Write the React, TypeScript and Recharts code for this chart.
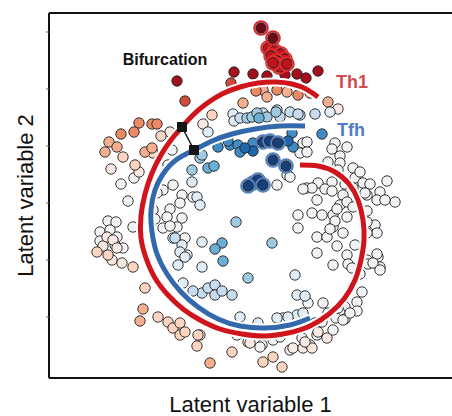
import {
  ComposedChart,
  Line,
  ReferenceDot,
  ReferenceLine,
  Scatter,
  XAxis,
  YAxis,
} from "recharts";

type Pair = [number, number];

// cells, in plot units (x right, y down)
const th1Tip: Pair[] = [[261, 28], [273, 38]];
const th1Cluster: Pair[] = [
  [268, 48], [275, 51], [281, 54], [285, 59], [271, 56], [277, 61], [283, 65], [279, 67], [287, 64], [273, 63],
];
const darkRed: Pair[] = [[177, 81], [234, 72], [253, 74], [267, 76], [285, 75], [297, 74], [306, 78], [318, 71]];
const red: Pair[] = [[185, 101], [231, 83]];
const orange: Pair[] = [[139, 123], [152, 124], [157, 124], [134, 132], [121, 134], [256, 91], [277, 90], [298, 95]];
const salmon: Pair[] = [
  [263, 90], [267, 97], [287, 92], [310, 93], [109, 142], [117, 147], [105, 152], [145, 152], [152, 148],
  [243, 103], [328, 102], [140, 321], [143, 309], [210, 363],
];
const lightSalmon: Pair[] = [
  [161, 136], [123, 157], [153, 153], [135, 165], [212, 115], [158, 317], [168, 322], [173, 328], [180, 323],
  [180, 335], [185, 332], [198, 335], [197, 346], [232, 352], [282, 367], [145, 288], [97, 252], [108, 255],
  [133, 267], [263, 362], [273, 357],
];
const paleRose: Pair[] = [
  [170, 132], [111, 169], [139, 172], [203, 124], [338, 109], [103, 246], [112, 260], [122, 263], [107, 237],
  [113, 240], [117, 248], [200, 335], [250, 343], [240, 332], [290, 350], [293, 348], [303, 348], [310, 345],
  [327, 338], [318, 332], [312, 348], [305, 342],
];
const neutral: Pair[] = [
  [121, 184], [134, 178], [128, 201], [133, 227], [108, 221], [116, 222], [100, 232], [110, 230], [117, 237],
  [115, 245], [123, 248], [100, 241],
  [173, 185], [163, 190], [182, 195], [180, 203], [170, 209], [153, 210], [167, 217], [182, 218], [163, 228],
  [177, 227], [173, 238], [185, 238], [187, 255], [157, 193], [193, 197], [155, 219], [170, 226], [172, 150],
  [168, 165],
  [303, 143], [300, 153], [287, 175], [277, 185], [290, 177], [298, 215], [298, 228], [307, 188],
  [307, 142], [307, 152], [335, 143], [347, 147], [332, 149], [340, 156], [328, 162], [340, 163], [353, 168],
  [338, 170], [355, 178], [363, 183], [387, 181], [318, 183], [332, 182], [345, 184], [325, 189], [360, 172],
  [370, 184], [380, 192], [395, 202], [377, 200], [367, 195], [343, 195], [353, 188], [312, 188], [303, 189],
  [317, 200], [312, 213], [322, 215], [333, 215], [340, 205], [347, 217], [333, 227], [317, 237], [327, 237],
  [337, 246], [375, 225], [377, 233], [367, 233], [378, 257], [367, 260], [380, 267], [347, 255], [348, 264],
  [333, 265], [317, 253], [355, 245], [332, 191], [347, 202], [337, 209], [353, 207], [335, 221], [343, 233],
  [330, 229], [352, 268], [360, 274], [365, 193], [385, 200], [367, 211], [367, 222], [368, 264], [377, 254],
  [373, 263],
  [362, 292], [357, 302], [357, 311], [345, 307], [340, 313], [345, 319], [336, 318], [338, 308], [328, 313],
  [323, 303], [308, 303], [322, 322], [315, 323], [380, 270], [343, 320], [350, 313],
  [248, 342], [262, 345], [273, 340], [302, 338], [317, 335], [333, 330], [237, 335], [260, 347], [280, 337],
];
const blue1: Pair[] = [
  [233, 114], [234, 121], [208, 132], [330, 112], [182, 245], [180, 252], [185, 257], [178, 265], [202, 267],
  [183, 283], [197, 197], [200, 205], [192, 182], [202, 242], [295, 275], [240, 317], [258, 323], [297, 315],
  [303, 313], [283, 318], [288, 317], [277, 318], [297, 295], [305, 296],
];
const blue2: Pair[] = [
  [240, 118], [263, 113], [277, 110], [300, 115], [315, 114], [290, 112], [298, 114], [280, 117], [175, 238],
  [202, 293], [208, 288], [215, 285], [215, 295], [222, 291], [232, 295], [193, 291],
];
const blue3: Pair[] = [
  [247, 118], [252, 117], [257, 113], [267, 117], [276, 112], [236, 222], [272, 243], [248, 278], [200, 158],
  [192, 170], [202, 155],
];
const blue4: Pair[] = [[259, 118], [222, 243], [215, 249], [223, 261], [208, 168], [214, 166]];
const blue5: Pair[] = [[218, 147], [230, 145], [238, 145], [253, 143], [240, 152], [293, 147], [292, 133], [322, 134], [228, 141]];
const blue6: Pair[] = [[253, 151], [288, 141], [245, 148]];
const tfhTip: Pair[] = [[263, 142], [270, 141], [278, 143], [273, 160], [286, 166], [253, 183], [258, 180], [263, 185], [248, 186]];

// principal curves
const th1Curve: Pair[] = [
  [300, 165], [318, 166], [335, 172], [349, 184], [358, 200], [363, 220], [364, 240], [361, 260], [355, 280],
  [344, 299], [329, 314], [310, 326], [288, 333], [264, 336], [242, 334], [220, 329], [200, 320], [183, 309],
  [168, 295], [155, 278], [146, 258], [141, 238], [141, 216], [145, 194], [152, 173], [161, 155], [171, 140],
  [182, 127], [193, 115], [206, 104], [222, 94], [240, 87], [258, 83], [276, 82], [292, 84], [306, 89], [318, 97],
];
const tfhCurve: Pair[] = [
  [310, 318], [290, 325], [265, 328], [240, 326], [218, 319], [198, 307], [181, 292], [167, 274], [157, 254],
  [152, 232], [151, 210], [155, 190], [163, 174], [176, 160], [194, 150], [212, 141], [232, 134], [255, 129],
  [280, 126], [305, 126],
];
const branchPoints: Pair[] = [[182, 127], [194, 150]];
const yTicks = [32, 89, 146, 203, 260, 317];

const pts = (a: Pair[]) => a.map(([x, y]) => ({ x, y }));

const dot = (fill: string, ring?: string) => (p: any) => (
  <g>
    {ring && <circle cx={p.cx} cy={p.cy} r={6.8} fill="none" stroke={ring} strokeWidth={2} />}
    <circle cx={p.cx} cy={p.cy} r={5.2} fill={fill} stroke="#222" strokeWidth={0.9} />
  </g>
);

const square = (p: any) => <rect x={p.cx - 5} y={p.cy - 5} width={10} height={10} fill="#151515" />;

const groups: { data: Pair[]; fill: string; ring?: string }[] = [
  { data: neutral, fill: "#f1f3f5" },
  { data: paleRose, fill: "#fae9e2" },
  { data: lightSalmon, fill: "#fcd4c0" },
  { data: salmon, fill: "#f5ae90" },
  { data: orange, fill: "#eb8966" },
  { data: red, fill: "#d04a3e" },
  { data: darkRed, fill: "#a3101d" },
  { data: blue1, fill: "#e0ecf6" },
  { data: blue2, fill: "#c7dcee" },
  { data: blue3, fill: "#9fcae1" },
  { data: blue4, fill: "#6aaed6" },
  { data: blue5, fill: "#3f8cc6" },
  { data: blue6, fill: "#1f66ad" },
  { data: tfhTip, fill: "#173f7a", ring: "#4f80c2" },
  { data: th1Cluster, fill: "#c4121b", ring: "#e32c2a" },
  { data: th1Tip, fill: "#6b0a1a", ring: "#d8282a" },
];

export default function App() {
  return (
    <div style={{ position: "absolute", left: 0, top: 0, width: 452, height: 416, overflow: "hidden", fontFamily: "'Liberation Sans', Arial, sans-serif" }}>
      <ComposedChart width={452} height={416} margin={{ top: 13, right: 0, bottom: 0, left: 0 }}>
        <XAxis
          type="number"
          dataKey="x"
          domain={[49, 452]}
          allowDataOverflow
          height={38}
          tick={false}
          tickLine={false}
          axisLine={{ stroke: "#111", strokeWidth: 2 }}
          label={{ value: "Latent variable 1", position: "insideBottom", offset: 4, fontSize: 22, fill: "#111" }}
        />
        <YAxis
          type="number"
          dataKey="y"
          reversed
          domain={[13, 378]}
          allowDataOverflow
          width={49}
          ticks={yTicks}
          tickSize={3}
          tickFormatter={() => ""}
          tickLine={{ stroke: "#666" }}
          axisLine={{ stroke: "#111", strokeWidth: 2 }}
          label={{ value: "Latent variable 2", angle: -90, position: "insideLeft", offset: 25, fontSize: 22, fill: "#111", style: { textAnchor: "middle" } }}
        />
        <ReferenceLine y={13} stroke="#111" strokeWidth={2} />
        {groups.map((g, i) => (
          <Scatter key={i} data={pts(g.data)} shape={dot(g.fill, g.ring)} isAnimationActive={false} zIndex={100} />
        ))}
        <Line data={pts(tfhCurve)} dataKey="y" type="natural" stroke="#fff" strokeWidth={9} dot={false} isAnimationActive={false} zIndex={400} />
        <Line data={pts(tfhCurve)} dataKey="y" type="natural" stroke="#3468ad" strokeWidth={5} dot={false} isAnimationActive={false} zIndex={400} />
        <Line data={pts(th1Curve)} dataKey="y" type="natural" stroke="#fff" strokeWidth={9} dot={false} isAnimationActive={false} zIndex={400} />
        <Line data={pts(th1Curve)} dataKey="y" type="natural" stroke="#d0141c" strokeWidth={5} dot={false} isAnimationActive={false} zIndex={400} />
        <Scatter data={pts(branchPoints)} shape={square} line={{ stroke: "#151515", strokeWidth: 1.5 }} isAnimationActive={false} zIndex={700} />
        <ReferenceDot x={165} y={59} r={0} fill="none" stroke="none" label={{ value: "Bifurcation", position: "center", fontSize: 16, fontWeight: 700, fill: "#111" }} />
        <ReferenceDot x={352} y={82} r={0} fill="none" stroke="none" label={{ value: "Th1", position: "center", fontSize: 18, fontWeight: 700, fill: "#d24b4f" }} />
        <ReferenceDot x={351} y={130} r={0} fill="none" stroke="none" label={{ value: "Tfh", position: "center", fontSize: 18, fontWeight: 700, fill: "#4f7cc4" }} />
      </ComposedChart>
    </div>
  );
}
